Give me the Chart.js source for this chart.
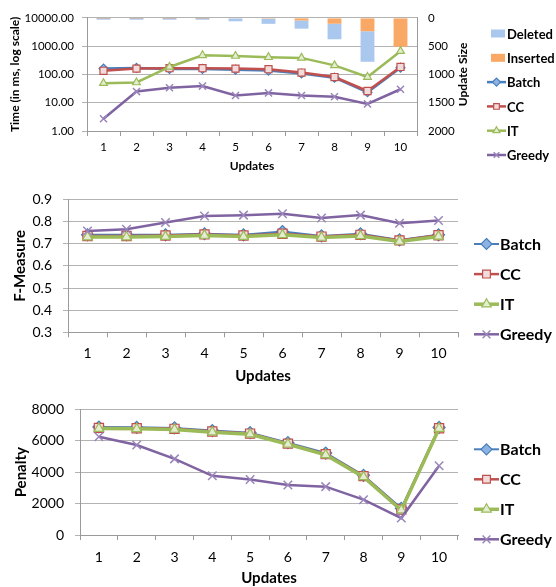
<!DOCTYPE html>
<html>
<head>
<meta charset="utf-8">
<script src="https://cdn.jsdelivr.net/npm/chart.js"></script>
<style>
  html, body { margin: 0; padding: 0; background: #fff; }
  #wrap { position: relative; width: 556px; height: 587px; overflow: hidden; }
  canvas { position: absolute; left: 0; }
</style>
</head>
<body>
<div id="wrap">
  <canvas id="cTime" width="556" height="180" style="top:0px"></canvas>
  <canvas id="cF" width="556" height="210" style="top:180px"></canvas>
  <canvas id="cPen" width="556" height="197" style="top:390px"></canvas>
</div>
<script>
// ---------- DATA ----------
const categories = ['1', '2', '3', '4', '5', '6', '7', '8', '9', '10'];

// Update size (right axis of top panel)
const deleted  = [30, 30, 30, 30, 50, 90, 145, 275, 540, 0];
const inserted = [2, 2, 2, 2, 10, 15, 45, 103, 236, 510];

// Time (ms, log scale)
const timeTicks  = [1, 10, 100, 1000, 10000];
const timeBatch  = [161, 170, 157, 157, 148, 137, 108, 77, 23.5, 174];
const timeCC     = [135, 161, 166, 166, 161, 153, 117, 81, 26, 184];
const timeIT     = [49, 52, 184, 476, 450, 406, 385, 210, 81, 667];
const timeGreedy = [2.7, 24.8, 34, 38.7, 18, 22.2, 18, 16.2, 9.1, 30];

// F-Measure
const fBatch  = [0.740, 0.740, 0.740, 0.745, 0.740, 0.755, 0.735, 0.745, 0.717, 0.740];
const fCC     = [0.735, 0.735, 0.737, 0.742, 0.737, 0.745, 0.732, 0.740, 0.715, 0.738];
const fIT     = [0.730, 0.730, 0.732, 0.737, 0.732, 0.740, 0.728, 0.735, 0.710, 0.733];
const fGreedy = [0.757, 0.765, 0.796, 0.825, 0.829, 0.835, 0.816, 0.829, 0.792, 0.805];

// Penalty
const penBatch  = [6880, 6860, 6820, 6650, 6520, 5880, 5220, 3800, 1700, 6850];
const penCC     = [6820, 6800, 6760, 6590, 6460, 5820, 5150, 3750, 1620, 6800];
const penIT     = [6780, 6760, 6720, 6550, 6420, 5780, 5100, 3700, 1580, 6780];
const penGreedy = [6260, 5730, 4850, 3770, 3530, 3190, 3080, 2250, 1080, 4410];

// ---------- STYLE ----------
const FAMILY = 'Lato, "Open Sans", "Liberation Sans", sans-serif';
Chart.defaults.font.family = FAMILY;
Chart.defaults.color = '#000';
const GRID = '#b3b3b3';
const AXIS = '#9a9a9a';

function drawMarker(ctx, style, x, y, r, fill, stroke, lw) {
  ctx.save();
  ctx.lineWidth = lw;
  ctx.strokeStyle = stroke;
  ctx.fillStyle = fill;
  ctx.beginPath();
  if (style === 'rectRot') {
    ctx.moveTo(x, y - r); ctx.lineTo(x + r, y); ctx.lineTo(x, y + r); ctx.lineTo(x - r, y); ctx.closePath();
    ctx.fill(); ctx.stroke();
  } else if (style === 'rect') {
    const s = r * Math.SQRT1_2;
    ctx.rect(x - s, y - s, 2 * s, 2 * s);
    ctx.fill(); ctx.stroke();
  } else if (style === 'triangle') {
    let a = 0;
    ctx.moveTo(x + Math.sin(a) * r, y - Math.cos(a) * r);
    a += 2 * Math.PI / 3;
    ctx.lineTo(x + Math.sin(a) * r, y - Math.cos(a) * r);
    a += 2 * Math.PI / 3;
    ctx.lineTo(x + Math.sin(a) * r, y - Math.cos(a) * r);
    ctx.closePath();
    ctx.fill(); ctx.stroke();
  } else if (style === 'crossRot') {
    const s = r * Math.SQRT1_2;
    ctx.moveTo(x - s, y - s); ctx.lineTo(x + s, y + s);
    ctx.moveTo(x + s, y - s); ctx.lineTo(x - s, y + s);
    ctx.stroke();
  }
  ctx.restore();
}

const customLegend = {
  id: 'customLegend',
  afterDraw(chart, args, o) {
    const ctx = chart.ctx;
    ctx.save();
    o.items.forEach((dsIndex, i) => {
      const ds = chart.data.datasets[dsIndex];
      const y = o.y0 + i * o.dy;
      if (ds.type === 'bar') {
        ctx.fillStyle = ds.backgroundColor;
        ctx.fillRect(o.rectX0, y - o.rectH / 2, o.rectX1 - o.rectX0, o.rectH);
      } else {
        ctx.strokeStyle = ds.borderColor;
        ctx.lineWidth = ds.borderWidth;
        ctx.beginPath();
        ctx.moveTo(o.lineX0, y); ctx.lineTo(o.lineX1, y);
        ctx.stroke();
        drawMarker(ctx, ds.pointStyle, (o.lineX0 + o.lineX1) / 2, y, o.markerR,
                   ds.pointBackgroundColor, ds.pointBorderColor, ds.pointBorderWidth);
      }
      ctx.fillStyle = '#000';
      ctx.font = o.font;
      ctx.textAlign = 'left';
      ctx.textBaseline = 'middle';
      ctx.fillText(ds.label, o.textX, y + 1);
    });
    ctx.restore();
  }
};

const rightTitle = {
  id: 'rightTitle',
  afterDraw(chart, args, o) {
    if (!o || !o.text) return;
    const ctx = chart.ctx;
    const ca = chart.chartArea;
    ctx.save();
    ctx.translate(o.x, (ca.top + ca.bottom) / 2);
    ctx.rotate(-Math.PI / 2);
    ctx.font = o.font;
    ctx.fillStyle = '#000';
    ctx.textAlign = 'center';
    ctx.textBaseline = 'middle';
    ctx.fillText(o.text, 0, 0);
    ctx.restore();
  }
};

function lineDs(label, data, kind, big, axis) {
  const sty = {
    Batch:  { c: '#4a7ebb', fill: '#8db3e2', ps: 'rectRot', w: big ? 2 : 2.5, r: big ? 6 : 4.5, order: 3 },
    CC:     { c: '#c0504d', fill: '#f2dcdb', ps: 'rect', w: 2.5, r: big ? 6.5 : 5, order: 2 },
    IT:     { c: '#9bbb59', fill: '#e4edd2', ps: 'triangle', w: big ? 3.5 : 2.5, r: big ? 5.5 : 4.5, order: 1 },
    Greedy: { c: '#8064a2', fill: '#8064a2', ps: 'crossRot', w: 2.5, r: big ? 6 : 5, order: 0 }
  }[kind];
  const d = {
    type: 'line', label, data,
    borderColor: sty.c, borderWidth: sty.w,
    pointStyle: sty.ps, pointRadius: sty.r,
    pointBackgroundColor: sty.fill,
    pointBorderColor: kind === 'Greedy' ? '#9a86bb' : sty.c,
    pointBorderWidth: kind === 'Greedy' ? 1.5 : 1.2,
    tension: 0, fill: false, order: sty.order
  };
  if (axis) d.yAxisID = axis;
  return d;
}

// ---------- TOP: time + update size ----------
new Chart(document.getElementById('cTime'), {
  type: 'bar',
  data: {
    labels: categories,
    datasets: [
      { type: 'bar', label: 'Inserted', data: inserted, yAxisID: 'y2', stack: 'u',
        backgroundColor: '#f9a865', barPercentage: 0.42, categoryPercentage: 1, order: 10 },
      { type: 'bar', label: 'Deleted', data: deleted, yAxisID: 'y2', stack: 'u',
        backgroundColor: '#aac7ee', barPercentage: 0.42, categoryPercentage: 1, order: 10 },
      lineDs('Batch', timeBatch, 'Batch', false, 'y'),
      lineDs('CC', timeCC, 'CC', false, 'y'),
      lineDs('IT', timeIT, 'IT', false, 'y'),
      lineDs('Greedy', timeGreedy, 'Greedy', false, 'y')
    ]
  },
  options: {
    responsive: false, animation: false, devicePixelRatio: 1,
    layout: { padding: { left: 0, top: 14, right: 81, bottom: 0 } },
    plugins: {
      legend: { display: false }, tooltip: { enabled: false },
      customLegend: {
        items: [1, 0, 2, 3, 4, 5], y0: 33.5, dy: 24.3,
        lineX0: 487, lineX1: 506, rectX0: 491, rectX1: 505, rectH: 8,
        textX: 507, markerR: 4, font: 'bold 13px ' + FAMILY
      },
      rightTitle: { text: 'Update Size', x: 463, font: 'bold 12px ' + FAMILY }
    },
    scales: {
      x: {
        type: 'category', offset: true, stacked: true,
        grid: { display: true, drawOnChartArea: false, drawTicks: true, tickLength: 5, offset: true, color: AXIS },
        border: { display: true, color: AXIS },
        ticks: { font: { size: 11.5 }, color: '#000', padding: 4, maxRotation: 0, autoSkip: false },
        title: { display: true, text: 'Updates', font: { size: 12, weight: 'bold' }, color: '#000', padding: { top: 0, bottom: 6.8 } },
        afterFit(s) { s.height = 49; }
      },
      y: {
        type: 'logarithmic', position: 'left', min: 1, max: 10000,
        afterBuildTicks(s) { s.ticks = timeTicks.map(v => ({ value: v })); },
        ticks: { callback: v => Number(v).toFixed(2), font: { size: 11.5 }, color: '#000', padding: 8 },
        grid: { color: GRID, tickLength: 5 },
        border: { color: AXIS },
        title: { display: true, text: 'Time (in ms, log scale)', font: { size: 12, weight: 'bold' }, color: '#000', padding: { top: 7.8, bottom: 0 } },
        afterFit(s) { s.width = 87; }
      },
      y2: {
        type: 'linear', position: 'right', reverse: true, min: 0, max: 2000, stacked: true,
        ticks: { stepSize: 500, padding: 11, font: { size: 11.5 }, color: '#000', callback: v => String(v) },
        grid: { drawOnChartArea: false, drawTicks: false },
        border: { display: true, color: AXIS },
        afterFit(s) { s.width = 58; }
      }
    }
  },
  plugins: [customLegend, rightTitle]
});

// ---------- MIDDLE: F-Measure ----------
new Chart(document.getElementById('cF'), {
  type: 'line',
  data: {
    labels: categories,
    datasets: [
      lineDs('Batch', fBatch, 'Batch', true),
      lineDs('CC', fCC, 'CC', true),
      lineDs('IT', fIT, 'IT', true),
      lineDs('Greedy', fGreedy, 'Greedy', true)
    ]
  },
  options: {
    responsive: false, animation: false, devicePixelRatio: 1,
    layout: { padding: { left: 0, top: 13.3, right: 98, bottom: 0 } },
    plugins: {
      legend: { display: false }, tooltip: { enabled: false },
      customLegend: {
        items: [0, 1, 2, 3], y0: 64, dy: 30.1,
        lineX0: 474, lineX1: 499, textX: 500, markerR: 5.5, font: 'bold 16px ' + FAMILY
      }
    },
    scales: {
      x: {
        type: 'category', offset: true,
        grid: { display: true, drawOnChartArea: false, drawTicks: true, tickLength: 5, offset: true, color: AXIS },
        border: { display: true, color: AXIS },
        ticks: { font: { size: 14 }, color: '#000', padding: 7.3, maxRotation: 0, autoSkip: false },
        title: { display: true, text: 'Updates', font: { size: 15, weight: 'bold' }, color: '#000', padding: { top: 0, bottom: 5 } },
        afterFit(s) { s.height = 57.7; }
      },
      y: {
        min: 0.3, max: 0.9,
        ticks: { stepSize: 0.1, callback: v => Number(v).toFixed(1), font: { size: 14 }, color: '#000', padding: 11 },
        grid: { color: GRID, tickLength: 5 },
        border: { color: AXIS },
        title: { display: true, text: 'F-Measure', font: { size: 15, weight: 'bold' }, color: '#000', padding: { top: 11, bottom: 0 } },
        afterFit(s) { s.width = 68; }
      }
    }
  },
  plugins: [customLegend]
});

// ---------- BOTTOM: Penalty ----------
new Chart(document.getElementById('cPen'), {
  type: 'line',
  data: {
    labels: categories,
    datasets: [
      lineDs('Batch', penBatch, 'Batch', true),
      lineDs('CC', penCC, 'CC', true),
      lineDs('IT', penIT, 'IT', true),
      lineDs('Greedy', penGreedy, 'Greedy', true)
    ]
  },
  options: {
    responsive: false, animation: false, devicePixelRatio: 1,
    layout: { padding: { left: 0, top: 9.3, right: 98, bottom: 0 } },
    plugins: {
      legend: { display: false }, tooltip: { enabled: false },
      customLegend: {
        items: [0, 1, 2, 3], y0: 59.3, dy: 30,
        lineX0: 474, lineX1: 499, textX: 500, markerR: 5.5, font: 'bold 16px ' + FAMILY
      }
    },
    scales: {
      x: {
        type: 'category', offset: true,
        grid: { display: true, drawOnChartArea: false, drawTicks: true, tickLength: 5, offset: true, color: AXIS },
        border: { display: true, color: AXIS },
        ticks: { font: { size: 14 }, color: '#000', padding: 8.6, maxRotation: 0, autoSkip: false },
        title: { display: true, text: 'Updates', font: { size: 15, weight: 'bold' }, color: '#000', padding: { top: 0, bottom: 0 } },
        afterFit(s) { s.height = 52; }
      },
      y: {
        min: 0, max: 8000,
        ticks: { stepSize: 2000, font: { size: 14 }, color: '#000', padding: 11, callback: v => String(v) },
        grid: { color: GRID, tickLength: 5 },
        border: { color: AXIS },
        title: { display: true, text: 'Penalty', font: { size: 15, weight: 'bold' }, color: '#000', padding: { top: 12, bottom: 0 } },
        afterFit(s) { s.width = 80; }
      }
    }
  },
  plugins: [customLegend]
});
</script>
</body>
</html>
